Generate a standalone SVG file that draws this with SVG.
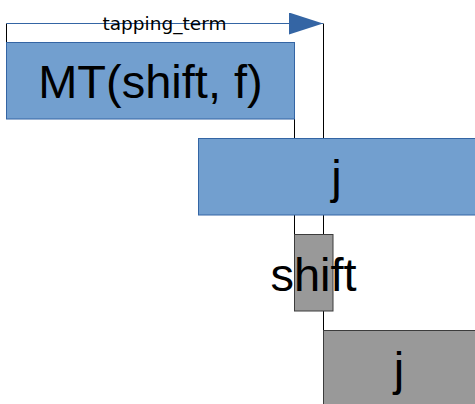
<svg xmlns="http://www.w3.org/2000/svg" width="475" height="404" viewBox="0 0 475 404">
<style>
.blue{fill:#729fcf;stroke:#3465a4;stroke-width:1}
.gray{fill:#999999;stroke:#3c3c3c;stroke-width:1}
.big{font-family:"Liberation Sans",Arial,sans-serif;font-size:47px;fill:#000;text-anchor:middle}
.lbl{font-family:"DejaVu Sans",sans-serif;font-size:17px;fill:#000;text-anchor:middle}
.blk{stroke:#000;stroke-width:1;fill:none}
</style>
<defs>
<marker id="arr" markerUnits="userSpaceOnUse" markerWidth="36" markerHeight="24" refX="34" refY="11" orient="auto">
<path d="M0,0 L34,11 L0,22 Z" fill="#3465a4"/>
</marker>
</defs>
<rect width="475" height="404" fill="#fff"/>
<g id="connectors">
<line class="blk" x1="6.5" y1="23.5" x2="6.5" y2="42.5"/>
<line class="blk" x1="294.5" y1="119" x2="294.5" y2="234.5"/>
<line class="blk" x1="323.5" y1="23.5" x2="323.5" y2="330.5"/>
<line x1="6.5" y1="23.5" x2="323" y2="23.5" stroke="#3465a4" stroke-width="1" marker-end="url(#arr)"/>
<text class="lbl" x="164.5" y="30" textLength="124" lengthAdjust="spacingAndGlyphs">tapping_term</text>
</g>
<g id="mt">
<rect class="blue" x="6.5" y="42.5" width="288" height="76.5"/>
<text class="big" x="150.5" y="98">MT(shift, f)</text>
</g>
<g id="j1">
<rect class="blue" x="198.5" y="138.5" width="277" height="76.5"/>
<text class="big" x="336.5" y="193">j</text>
</g>
<g id="shift">
<rect class="gray" x="294.5" y="234.5" width="38.5" height="76.5"/>
<text class="big" x="313.5" y="290.5">shift</text>
</g>
<g id="j2">
<rect class="gray" x="323.5" y="330.5" width="152" height="80"/>
<text class="big" x="399" y="385">j</text>
</g>
</svg>
